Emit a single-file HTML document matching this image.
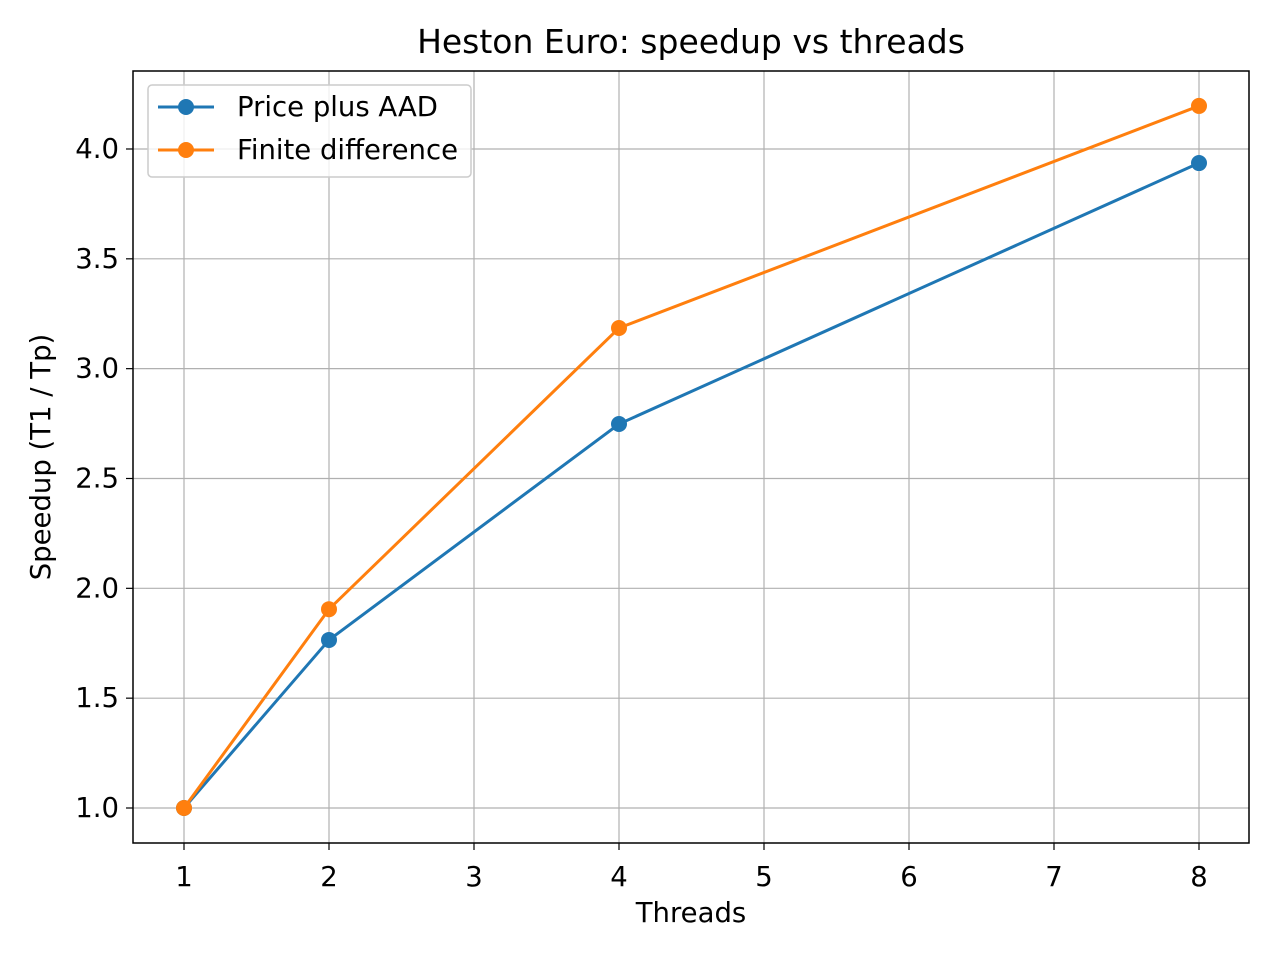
<!DOCTYPE html>
<html><head><meta charset="utf-8"><style>
html,body{margin:0;padding:0;background:#fff;}
svg{display:block;font-family:"DejaVu Sans","Liberation Sans",sans-serif;}
</style></head><body>
<svg id="chart" width="1280" height="960" viewBox="0 0 1280 960">
<rect x="0" y="0" width="1280" height="960" fill="#fff"/>
<text x="691" y="53" text-anchor="middle" font-size="33" fill="#000">Heston Euro: speedup vs threads</text>
<g id="grid"></g>
<g id="ticks"></g>
<g id="series"></g>
<rect x="133" y="71" width="1116" height="772" fill="none" stroke="#000" stroke-width="1.5"/>
<text x="691" y="922" text-anchor="middle" font-size="27.5">Threads</text>
<text transform="translate(50,457) rotate(-90)" text-anchor="middle" font-size="27.5">Speedup (T1 / Tp)</text>
<g>
<rect x="148" y="85" width="323" height="92" rx="4" fill="#fff" fill-opacity="0.8" stroke="#ccc" stroke-width="1.5"/>
<g>
<line x1="158" y1="107" x2="214" y2="107" stroke="#1f77b4" stroke-width="3"/>
<circle cx="186" cy="107" r="8" fill="#1f77b4"/>
<text x="237" y="116" font-size="27.5">Price plus AAD</text></g>
<g>
<line x1="158" y1="150" x2="214" y2="150" stroke="#ff7f0e" stroke-width="3"/>
<circle cx="186" cy="150" r="8" fill="#ff7f0e"/>
<text x="237" y="159" font-size="27.5">Finite difference</text></g>
</g>
</svg>
<script>
const threads=[1,2,4,8];
const aadSpeedup=[1.0,1.765,2.748,3.936];
const fdSpeedup=[1.0,1.905,3.185,4.196];
const xTicks=[1,2,3,4,5,6,7,8];
const yTicks=[1.0,1.5,2.0,2.5,3.0,3.5,4.0];
const NS="http://www.w3.org/2000/svg";
function xs(v){return 184+(v-1)*145;}
function ys(v){return 808-(v-1)*219.67;}
function mk(tag,attrs,parent){const e=document.createElementNS(NS,tag);for(const k in attrs)e.setAttribute(k,attrs[k]);parent.appendChild(e);return e;}
const grid=document.getElementById('grid'),ticks=document.getElementById('ticks'),series=document.getElementById('series');
xTicks.forEach(t=>{const x=xs(t);
 const g=mk('line',{x1:x,y1:71,x2:x,y2:843,stroke:'#b0b0b0','stroke-width':1.2},grid);
 
 
 mk('line',{x1:x,y1:843,x2:x,y2:850,stroke:'#000','stroke-width':1.2},ticks);
 const l=mk('text',{x:x,y:886,'text-anchor':'middle','font-size':27.5},ticks);l.textContent=t;
 
 });
yTicks.forEach(t=>{const y=ys(t);
 const g=mk('line',{x1:133,y1:y,x2:1249,y2:y,stroke:'#b0b0b0','stroke-width':1.2},grid);
 
 
 mk('line',{x1:126,y1:y,x2:133,y2:y,stroke:'#000','stroke-width':1.2},ticks);
 const l=mk('text',{x:119,y:y+9,'text-anchor':'end','font-size':27.5},ticks);l.textContent=t.toFixed(1);
 
 });
function draw(vals,color,name){
 const p=mk('polyline',{points:threads.map((t,i)=>xs(t)+','+ys(vals[i])).join(' '),fill:'none',stroke:color,'stroke-width':3},series);
 
 
 threads.forEach((t,i)=>{const c=mk('circle',{cx:xs(t),cy:ys(vals[i]),r:8,fill:color},series);
  
  });
}
draw(aadSpeedup,'#1f77b4','aad');
draw(fdSpeedup,'#ff7f0e','fd');
</script>
</body></html>
